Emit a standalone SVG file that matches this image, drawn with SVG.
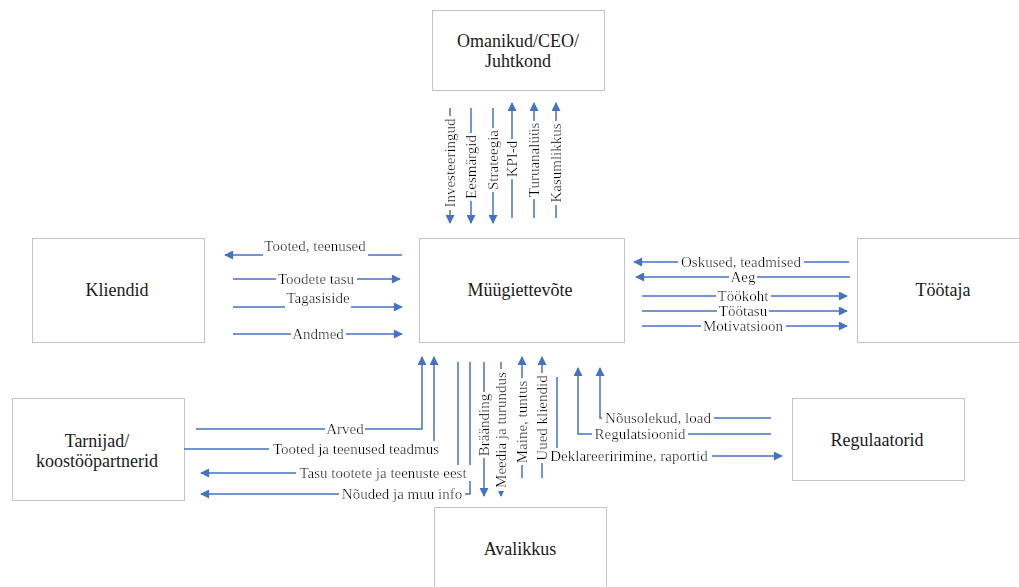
<svg xmlns="http://www.w3.org/2000/svg" width="1019" height="587" viewBox="0 0 1019 587">
  <style>
    .box { fill: #fff; stroke: #c4c4c4; stroke-width: 1; }
    .bt { font-size: 18px; fill: #1a1a1a; text-anchor: middle; }
    .lb { font-size: 15px; fill: #000; text-anchor: middle; dominant-baseline: central; }
    .ln { fill: none; stroke: #4472C4; stroke-width: 1.5; }
    .ar { marker-end: url(#ah); }
    .bg { filter: url(#tbg); }
  </style>
  <defs>
    <marker id="ah" viewBox="0 0 10 10" refX="9" refY="5" markerWidth="11" markerHeight="9" markerUnits="userSpaceOnUse" orient="auto">
      <path d="M0,0 L10,5 L0,10 z" fill="#4472C4"/>
    </marker>
    <!-- white backing behind connector labels -->
    <filter id="tbg" x="-0.02" y="0" width="1.04" height="1">
      <feFlood flood-color="#ffffff"/>
      <feComposite in="SourceGraphic" operator="over"/>
    </filter>
  </defs>

  <g font-family="'Liberation Serif', 'DejaVu Serif', serif">
  <!-- nodes -->
  <g id="omanikud">
    <rect class="box" x="432.5" y="10.5" width="172" height="80"/>
    <text class="bt" x="518" y="46.5">Omanikud/CEO/</text>
    <text class="bt" x="518" y="66.5">Juhtkond</text>
  </g>
  <g id="kliendid">
    <rect class="box" x="32.5" y="238.5" width="172" height="104"/>
    <text class="bt" x="117" y="296">Kliendid</text>
  </g>
  <g id="muugiettevote">
    <rect class="box" x="419.5" y="238.5" width="205" height="104"/>
    <text class="bt" x="520" y="296">Müügiettevõte</text>
  </g>
  <g id="tootaja">
    <rect class="box" x="857.5" y="238.5" width="172" height="104"/>
    <text class="bt" x="943" y="296">Töötaja</text>
  </g>
  <g id="tarnijad">
    <rect class="box" x="12.5" y="398.5" width="172" height="102"/>
    <text class="bt" x="97" y="447">Tarnijad/</text>
    <text class="bt" x="97" y="467">koostööpartnerid</text>
  </g>
  <g id="regulaatorid">
    <rect class="box" x="792.5" y="398.5" width="172" height="82"/>
    <text class="bt" x="877" y="446">Regulaatorid</text>
  </g>
  <g id="avalikkus">
    <rect class="box" x="434.5" y="507.5" width="172" height="90"/>
    <text class="bt" x="520" y="555">Avalikkus</text>
  </g>

  <!-- connectors -->
  <g id="connectors">
    <!-- owners -->
    <path class="ln ar" d="M450,108 V223"/>
    <path class="ln ar" d="M471,108 V223"/>
    <path class="ln ar" d="M493,108 V223"/>
    <path class="ln ar" d="M512,218 V103"/>
    <path class="ln ar" d="M534,218 V103"/>
    <path class="ln ar" d="M556,218 V103"/>
    <!-- clients -->
    <path class="ln" d="M402,255 H368"/>
    <path class="ln ar" d="M263,255 H225"/>
    <path class="ln ar" d="M233,279 H400"/>
    <path class="ln" d="M233,307 H285"/>
    <path class="ln ar" d="M351,307 H402"/>
    <path class="ln ar" d="M233,334 H402"/>
    <!-- employee -->
    <path class="ln ar" d="M849,262 H634"/>
    <path class="ln ar" d="M850,277 H636"/>
    <path class="ln ar" d="M642,296 H847"/>
    <path class="ln ar" d="M642,311 H847"/>
    <path class="ln ar" d="M642,326 H847"/>
    <!-- suppliers -->
    <path class="ln ar" d="M196,429 H422 V357"/>
    <path class="ln ar" d="M184,449 H434 V357"/>
    <path class="ln ar" d="M458,362 V473 H201"/>
    <path class="ln ar" d="M470,362 V494 H201"/>
    <!-- public -->
    <path class="ln ar" d="M484,362 V496"/>
    <path class="ln ar" d="M501,362 V496"/>
    <path class="ln ar" d="M522,478 V357"/>
    <path class="ln ar" d="M542,478 V357"/>
    <!-- regulators -->
    <path class="ln ar" d="M557,377 V456 H782"/>
    <path class="ln ar" d="M771,418 H600 V368"/>
    <path class="ln ar" d="M771,434 H578 V368"/>

    <!-- labels -->
    <text class="lb bg" transform="translate(450,163) rotate(-90)">Investeeringud</text>
    <text class="lb bg" transform="translate(471,167) rotate(-90)">Eesmärgid</text>
    <text class="lb bg" transform="translate(493,160) rotate(-90)">Strateegia</text>
    <text class="lb bg" transform="translate(512,159) rotate(-90)">KPI-d</text>
    <text class="lb bg" transform="translate(534,160) rotate(-90)">Turuanalüüs</text>
    <text class="lb bg" transform="translate(556,163) rotate(-90)">Kasumlikkus</text>

    <text class="lb bg" x="315" y="246">Tooted, teenused</text>
    <text class="lb bg" x="316" y="279">Toodete tasu</text>
    <text class="lb bg" x="318" y="298">Tagasiside</text>
    <text class="lb bg" x="318" y="334">Andmed</text>

    <text class="lb bg" x="741" y="262">Oskused, teadmised</text>
    <text class="lb bg" x="743" y="277">Aeg</text>
    <text class="lb bg" x="743" y="296">Töökoht</text>
    <text class="lb bg" x="743" y="311">Töötasu</text>
    <text class="lb bg" x="743" y="326">Motivatsioon</text>

    <text class="lb bg" x="345" y="429">Arved</text>
    <text class="lb bg" x="356" y="449">Tooted ja teenused teadmus</text>
    <text class="lb bg" x="383" y="473">Tasu tootete ja teenuste eest</text>
    <text class="lb bg" x="402" y="494">Nõuded ja muu info</text>

    <text class="lb bg" transform="translate(484,425) rotate(-90)">Bräänding</text>
    <text class="lb bg" transform="translate(501,430) rotate(-90)">Meedia ja turundus</text>
    <text class="lb bg" transform="translate(522,422) rotate(-90)">Maine, tuntus</text>
    <text class="lb bg" transform="translate(542,418) rotate(-90)">Uued kliendid</text>

    <text class="lb bg" x="629" y="456">Deklareeririmine, raportid</text>
    <text class="lb bg" x="658" y="418">Nõusolekud, load</text>
    <text class="lb bg" x="640" y="434">Regulatsioonid</text>
  </g>
  </g>
</svg>
